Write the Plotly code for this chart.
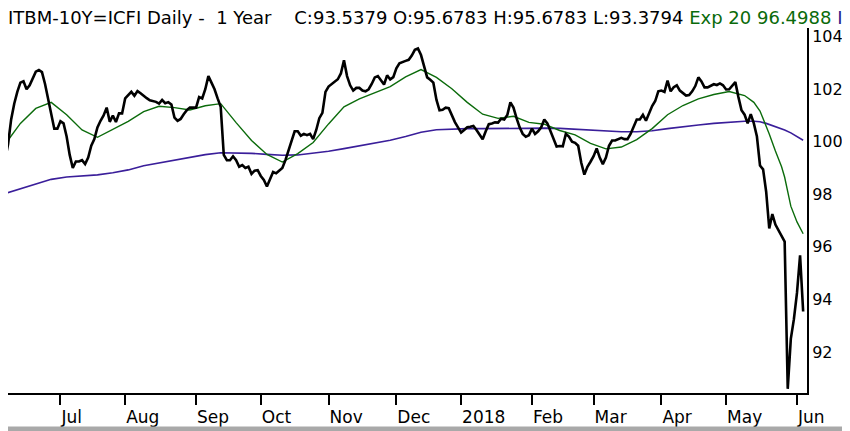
import pandas as pd
import plotly.graph_objects as go

# ---- data ----
close_start = "2017-06-07"
close_end = "2018-06-05"
close_values = [
    # Jun 2017
    99.3, 99.9, 100.85, 101.45, 101.9, 102.25, 102.3, 102.0, 102.15, 102.4, 102.67, 102.73, 102.65, 102.2, 101.6, 101.0, 100.5, 100.5,
    # Jul
    100.78, 100.7, 100.2, 99.5, 99.0, 99.25, 99.25, 99.3, 99.15, 99.4, 99.85, 100.1, 100.55, 100.8, 101.0, 101.3, 100.76, 101.0, 100.75, 101.08, 101.08,
    # Aug
    101.65, 101.77, 101.9, 101.75, 101.93, 101.85, 101.74, 101.66, 101.58, 101.55, 101.52, 101.45, 101.59, 101.47, 101.51, 101.42, 100.92, 100.8, 100.87, 101.05, 101.2, 101.3, 101.3,
    # Sep
    101.3, 101.7, 101.65, 102.0, 102.5, 102.25, 102.0, 101.65, 101.33, 99.5, 99.3, 99.3, 99.45, 99.3, 99.05, 99.11, 99.0, 99.05, 98.78, 98.9, 98.92,
    # Oct
    98.7, 98.55, 98.3, 98.55, 98.85, 98.8, 98.9, 99.0, 99.3, 99.7, 100.05, 100.4, 100.4, 100.23, 100.3, 100.25, 100.3, 100.1, 100.45, 100.9, 101.1, 101.9,
    # Nov
    102.1, 102.2, 102.3, 102.38, 102.6, 103.1, 102.5, 102.15, 101.95, 102.05, 102.05, 101.95, 101.92, 102.0, 102.2, 102.45, 102.5, 102.33, 102.18, 102.53, 102.37, 102.46,
    # Dec
    102.8, 102.99, 103.05, 103.08, 103.12, 103.28, 103.5, 103.55, 103.3, 102.85, 102.45, 102.36, 102.25, 101.6, 101.2, 101.22, 101.3, 101.28, 101.0, 100.75, 100.55,
    # Jan 2018
    100.35, 100.45, 100.55, 100.57, 100.6, 100.45, 100.28, 100.1, 100.4, 100.67, 100.7, 100.74, 100.73, 100.88, 100.85, 101.02, 101.5, 101.3, 100.9, 100.55, 100.3, 100.19, 100.25,
    # Feb
    100.5, 100.3, 100.4, 100.55, 100.85, 100.7, 100.4, 100.05, 99.82, 99.84, 99.83, 100.3, 100.2, 100.0, 99.96, 99.85, 99.2, 98.75, 99.05, 99.24,
    # Mar
    99.45, 99.75, 99.4, 99.15, 99.4, 99.85, 100.05, 100.05, 100.1, 100.15, 100.1, 100.1, 100.3, 100.55, 100.85, 100.85, 101.03, 100.8, 101.08, 101.36, 101.55, 101.92,
    # Apr
    101.95, 101.9, 102.33, 101.92, 102.08, 102.15, 101.95, 101.86, 101.76, 101.78, 101.92, 102.12, 102.45, 102.3, 102.07, 102.07, 102.13, 102.19, 102.16, 102.22, 102.15,
    # May
    101.99, 102.0, 102.13, 102.27, 101.7, 101.2, 101.03, 100.7, 101.05, 100.7, 100.2, 99.1, 98.95, 98.1, 96.7, 97.25, 96.85, 96.65, 96.4, 96.2, 90.6, 92.5, 93.25,
    # Jun 2018
    94.25, 95.68, 93.54,
]

avg_dates = [
    "2017-06-07", "2017-06-14", "2017-06-21", "2017-06-28",
    "2017-07-05", "2017-07-12", "2017-07-19", "2017-07-26",
    "2017-08-02", "2017-08-09", "2017-08-16", "2017-08-23", "2017-08-30",
    "2017-09-06", "2017-09-13", "2017-09-20", "2017-09-27",
    "2017-10-04", "2017-10-11", "2017-10-18", "2017-10-25",
    "2017-11-01", "2017-11-08", "2017-11-15", "2017-11-22", "2017-11-29",
    "2017-12-06", "2017-12-13", "2017-12-20", "2017-12-27",
    "2018-01-03", "2018-01-10", "2018-01-17", "2018-01-24", "2018-01-31",
    "2018-02-07", "2018-02-14", "2018-02-21", "2018-02-28",
    "2018-03-07", "2018-03-14", "2018-03-21", "2018-03-28",
    "2018-04-04", "2018-04-11", "2018-04-18", "2018-04-25",
    "2018-05-02", "2018-05-09", "2018-05-14", "2018-05-16", "2018-05-18",
    "2018-05-21", "2018-05-23", "2018-05-25", "2018-05-28", "2018-05-30",
    "2018-06-01", "2018-06-05",
]
ema20_values = [
    99.9, 100.7, 101.27, 101.5,
    101.03, 100.45, 100.17, 100.46,
    100.78, 101.15, 101.35, 101.3, 101.21,
    101.37, 101.45, 100.73, 100.05,
    99.52, 99.23, 99.55, 99.97,
    100.68, 101.33, 101.63, 101.85, 102.1,
    102.47, 102.75, 102.45, 102.02,
    101.5, 101.05, 100.89, 100.97, 100.74,
    100.67, 100.43, 100.26, 99.94,
    99.73, 99.8, 100.08, 100.5,
    101.03, 101.38, 101.63, 101.8,
    101.91, 101.76, 101.5, 101.17, 100.6,
    100.3, 99.65, 99.05, 98.65, 97.55,
    96.95, 96.5,
]
ma_values = [
    98.03, 98.2, 98.38, 98.57,
    98.66, 98.7, 98.74, 98.82,
    98.93, 99.09, 99.2, 99.31, 99.42,
    99.51, 99.58, 99.58, 99.56,
    99.52, 99.49, 99.5, 99.56,
    99.64, 99.74, 99.85, 99.96, 100.06,
    100.2, 100.36, 100.46, 100.49,
    100.5, 100.5, 100.51, 100.52, 100.52,
    100.52, 100.51, 100.48, 100.44,
    100.4, 100.38, 100.38, 100.42,
    100.5, 100.58, 100.64, 100.7,
    100.75, 100.78, 100.78, 100.76, 100.7,
    100.66, 100.6, 100.5, 100.45, 100.34,
    100.2, 100.06,
]

tick_dates = ["2017-07-03", "2017-08-01", "2017-09-01", "2017-10-02", "2017-11-01", "2017-12-01",
              "2018-01-01", "2018-02-01", "2018-03-01", "2018-04-02", "2018-05-01", "2018-06-01"]
tick_labels = ["Jul", "Aug", "Sep", "Oct", "Nov", "Dec", "2018", "Feb", "Mar", "Apr", "May", "Jun"]
y_ticks = [92, 94, 96, 98, 100, 102, 104]

title_main = "ITBM-10Y=ICFI Daily -  1 Year    C:93.5379 O:95.6783 H:95.6783 L:93.3794 "
title_ema = "Exp 20 96.4988"
title_ma = "I"

close_dates = pd.bdate_range(close_start, close_end)

# ---- figure ----
# The page body keeps the browser's default 8px margin, so the figure is
# sized to fill the rest of the 850x431 window.
W, H = 842, 423
ML, MR, MT, MB = 0, 43, 20, 38
PW, PH = W - ML - MR, H - MT - MB

fig = go.Figure()
fig.add_trace(go.Scatter(x=avg_dates, y=ma_values, mode="lines",
                         line=dict(color="#3a1e9a", width=1.6), hoverinfo="skip"))
fig.add_trace(go.Scatter(x=avg_dates, y=ema20_values, mode="lines",
                         line=dict(color="#0b6b0b", width=1.4), hoverinfo="skip"))
fig.add_trace(go.Scatter(x=close_dates, y=close_values, mode="lines",
                         line=dict(color="black", width=2.6), hoverinfo="skip"))

fig.update_layout(
    width=W, height=H,
    margin=dict(l=ML, r=MR, t=MT, b=MB, pad=0),
    paper_bgcolor="white", plot_bgcolor="white",
    showlegend=False,
    font=dict(family="DejaVu Sans", color="black"),
)
fig.update_xaxes(
    range=["2017-06-07 23:30", "2018-06-06 06:00"],
    rangebreaks=[dict(bounds=["sat", "mon"])],
    tickmode="array", tickvals=tick_dates, ticktext=tick_labels,
    ticks="outside", ticklen=10, tickwidth=2, tickcolor="black",
    ticklabelposition="outside right", ticklabelshift=-1, ticklabelstandoff=8,
    tickfont=dict(size=17, family="DejaVu Sans", color="black"),
    showline=True, linecolor="black", linewidth=2,
    showgrid=False, zeroline=False,
)
fig.update_yaxes(
    side="right", range=[90.44, 104.33],
    tickmode="array", tickvals=y_ticks,
    ticks="", ticklen=0, ticklabelstandoff=0,
    tickfont=dict(size=16, family="DejaVu Sans", color="black"),
    showline=True, linecolor="black", linewidth=2,
    showgrid=False, zeroline=False,
)

fig.add_annotation(
    xref="paper", yref="paper",
    x=0, y=1 + (MT - 9.5) / PH,
    xanchor="left", yanchor="middle", showarrow=False, xshift=-2,
    text=(title_main + "<span style='color:#0a6a0a'>" + title_ema + "</span> "
          + "<span style='color:#2b1a8c'>" + title_ma + "</span>"),
    font=dict(size=18, family="DejaVu Sans", color="black"),
)

# grey frame round the picture (right and bottom sides fall inside the figure)
fig.add_shape(type="rect", xref="paper", yref="paper",
              x0=-8 / PW, x1=(W - 2 - ML) / PW, y0=-(MB - 2) / PH, y1=1 + (MT + 8) / PH,
              line=dict(color="#a9a9a9", width=5), layer="above")

fig.write_html("out.html")
